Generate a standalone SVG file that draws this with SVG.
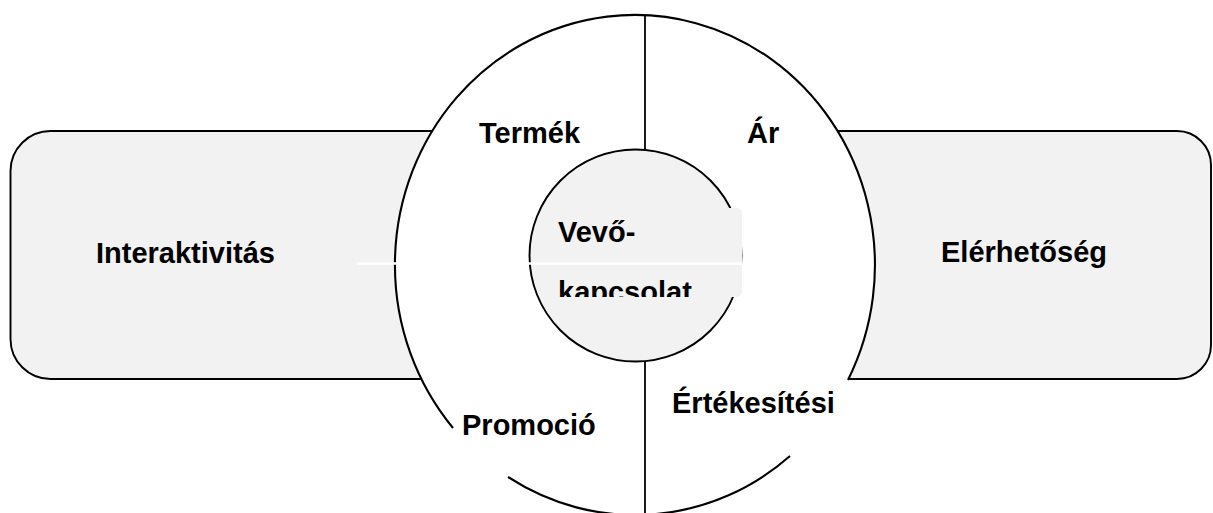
<svg xmlns="http://www.w3.org/2000/svg" width="1213" height="513" viewBox="0 0 1213 513">
  <style>
    .box { fill: #f2f2f2; stroke: #000; stroke-width: 1.9; }
    .lbl { font-family: "Liberation Sans", Arial, sans-serif; font-weight: bold; font-size: 29px; fill: #000; }
    .ln { stroke: #000; fill: none; stroke-width: 2.1; }
  </style>
  <defs>
    <clipPath id="vkClip">
      <rect x="550" y="208" width="192" height="89"/>
    </clipPath>
  </defs>
  <rect width="1213" height="513" fill="#fff"/>

  <g id="interaktivitas">
    <rect class="box" x="10.5" y="131" width="500" height="248" rx="40" ry="40"/>
    <text class="lbl" x="96" y="263">Interaktivitás</text>
  </g>

  <g id="elerhetoseg">
    <rect class="box" x="760" y="131" width="451" height="248" rx="34" ry="34"/>
    <text class="lbl" x="941" y="262">Elérhetőség</text>
  </g>

  <g id="ring">
    <ellipse cx="635" cy="265" rx="240" ry="250" fill="#fff"/>
    <path class="ln" d="M 508 477 A 240 250 0 0 0 790 456"/>
    <path class="ln" d="M 848 380 A 240 250 0 1 0 453 428"/>
  </g>

  <g id="connectors">
    <line x1="645" y1="15" x2="645" y2="513" stroke="#000" stroke-width="1.8"/>
  </g>

  <g id="vevokapcsolat">
    <circle cx="635.5" cy="255.5" r="106" fill="#f2f2f2" stroke="#000" stroke-width="1.9"/>
    <rect x="550" y="208" width="192" height="89" rx="5" ry="5" fill="#f2f2f2"/>
    <line x1="357" y1="263.5" x2="742" y2="263.5" stroke="#fff" stroke-width="2.4"/>
    <g clip-path="url(#vkClip)">
      <text class="lbl" x="558" y="242">Vevő-</text>
      <text class="lbl" x="558" y="302">kapcsolat</text>
    </g>
  </g>

  <g id="termek">
    <text class="lbl" x="479" y="143">Termék</text>
  </g>
  <g id="ar">
    <text class="lbl" x="747" y="143">Ár</text>
  </g>
  <g id="promocio">
    <text class="lbl" x="462" y="435">Promoció</text>
  </g>
  <g id="ertekesitesi">
    <text class="lbl" x="672" y="413">Értékesítési</text>
  </g>
</svg>
